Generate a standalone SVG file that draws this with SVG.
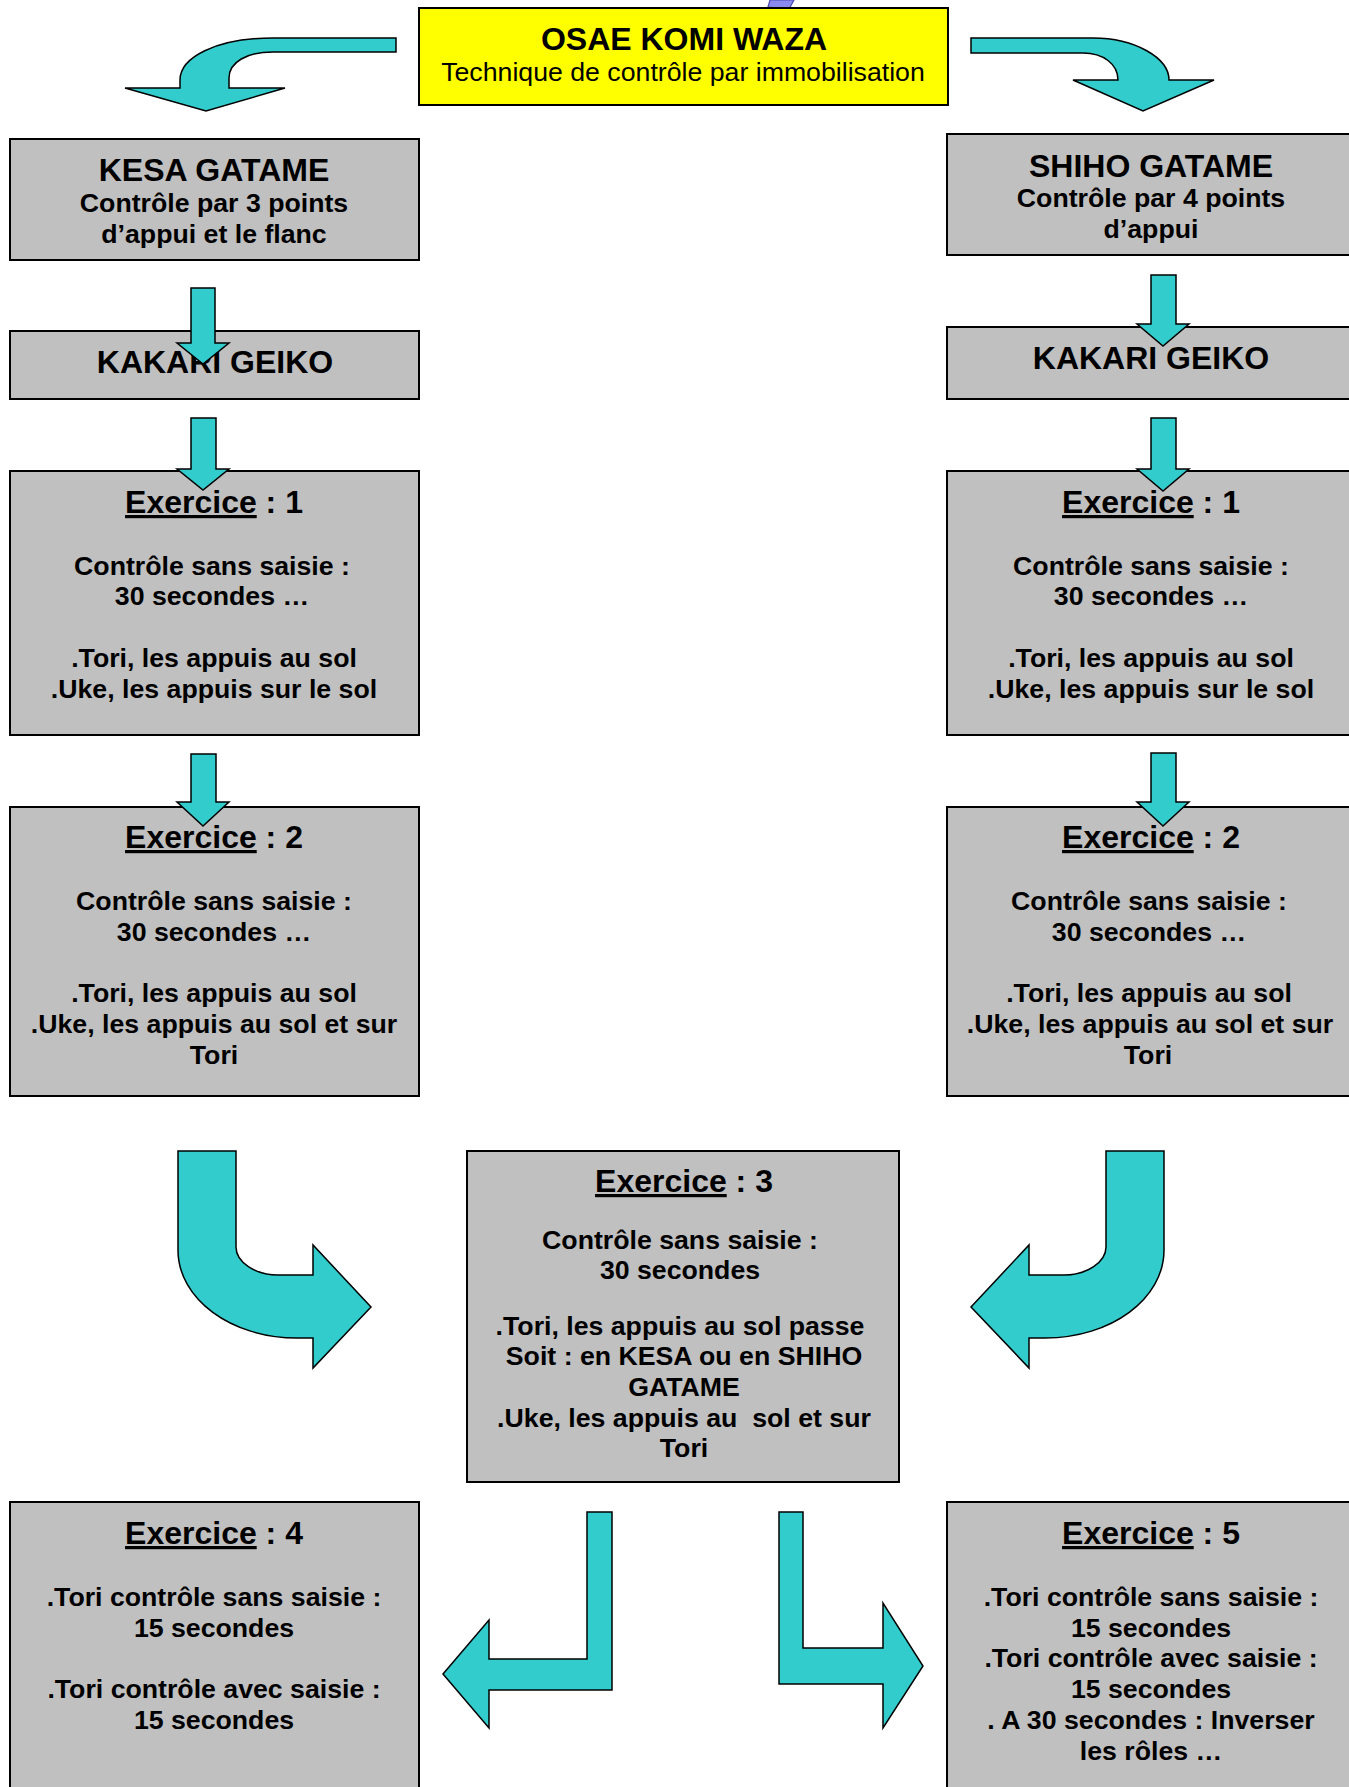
<svg xmlns="http://www.w3.org/2000/svg" width="1349" height="1787" viewBox="0 0 1349 1787">
<style>
.box{fill:#C0C0C0;stroke:#000;stroke-width:2}
.title{fill:#FFFF00;stroke:#000;stroke-width:2}
.arrow{fill:#33CCCC;stroke:#000;stroke-width:1.5;stroke-linejoin:miter}
text{font-family:"Liberation Sans",Arial,sans-serif;fill:#000;text-anchor:middle}
.h{font-size:32px;font-weight:bold}
.b{font-size:26.7px;font-weight:bold}
.r{font-size:26.7px}
.u{text-decoration:underline}
.pre{white-space:pre}
</style>
<rect x="0" y="0" width="1349" height="1787" fill="#FFFFFF"/>
<polygon points="770,0 794,0 789,9 768,7" fill="#8A8AEE" stroke="#4848B0" stroke-width="1.2"/>

<g id="osae">
<rect class="title" x="419" y="8" width="529" height="97"/>
<text class="h" x="684" y="50">OSAE KOMI WAZA</text>
<text class="r" x="683" y="81">Technique de contrôle par immobilisation</text>
</g>

<g id="kesa">
<rect class="box" x="10" y="139" width="409" height="121"/>
<text class="h" x="214" y="181">KESA GATAME</text>
<text class="b" x="214" y="212">Contrôle par 3 points</text>
<text class="b" x="214" y="243">d’appui et le flanc</text>
</g>

<g id="shiho">
<rect class="box" x="947" y="134" width="420" height="121"/>
<text class="h" x="1151" y="177">SHIHO GATAME</text>
<text class="b" x="1151" y="207">Contrôle par 4 points</text>
<text class="b" x="1151" y="238">d’appui</text>
</g>

<g id="kakari-left">
<rect class="box" x="10" y="331" width="409" height="68"/>
<text class="h" x="215" y="373">KAKARI GEIKO</text>
</g>

<g id="kakari-right">
<rect class="box" x="947" y="327" width="420" height="72"/>
<text class="h" x="1151" y="369">KAKARI GEIKO</text>
</g>

<g id="ex1-left">
<rect class="box" x="10" y="471" width="409" height="264"/>
<text class="h" x="214" y="513"><tspan class="u">Exercice</tspan> : 1</text>
<text class="b" x="212" y="575">Contrôle sans saisie :</text>
<text class="b" x="212" y="605">30 secondes …</text>
<text class="b" x="214" y="667">.Tori, les appuis au sol</text>
<text class="b" x="214" y="698">.Uke, les appuis sur le sol</text>
</g>

<g id="ex1-right">
<rect class="box" x="947" y="471" width="420" height="264"/>
<text class="h" x="1151" y="513"><tspan class="u">Exercice</tspan> : 1</text>
<text class="b" x="1151" y="575">Contrôle sans saisie :</text>
<text class="b" x="1151" y="605">30 secondes …</text>
<text class="b" x="1151" y="667">.Tori, les appuis au sol</text>
<text class="b" x="1151" y="698">.Uke, les appuis sur le sol</text>
</g>

<g id="ex2-left">
<rect class="box" x="10" y="807" width="409" height="289"/>
<text class="h" x="214" y="848"><tspan class="u">Exercice</tspan> : 2</text>
<text class="b" x="214" y="910">Contrôle sans saisie :</text>
<text class="b" x="214" y="941">30 secondes …</text>
<text class="b" x="214" y="1002">.Tori, les appuis au sol</text>
<text class="b" x="214" y="1033">.Uke, les appuis au sol et sur</text>
<text class="b" x="214" y="1064">Tori</text>
</g>

<g id="ex2-right">
<rect class="box" x="947" y="807" width="420" height="289"/>
<text class="h" x="1151" y="848"><tspan class="u">Exercice</tspan> : 2</text>
<text class="b" x="1149" y="910">Contrôle sans saisie :</text>
<text class="b" x="1149" y="941">30 secondes …</text>
<text class="b" x="1149" y="1002">.Tori, les appuis au sol</text>
<text class="b" x="1150" y="1033">.Uke, les appuis au sol et sur</text>
<text class="b" x="1148" y="1064">Tori</text>
</g>

<g id="ex3">
<rect class="box" x="467" y="1151" width="432" height="331"/>
<text class="h" x="684" y="1192"><tspan class="u">Exercice</tspan> : 3</text>
<text class="b" x="680" y="1249">Contrôle sans saisie :</text>
<text class="b" x="680" y="1279">30 secondes</text>
<text class="b" x="680" y="1335">.Tori, les appuis au sol passe</text>
<text class="b" x="684" y="1365">Soit : en KESA ou en SHIHO</text>
<text class="b" x="684" y="1396">GATAME</text>
<text class="b pre" x="684" y="1427">.Uke, les appuis au  sol et sur</text>
<text class="b" x="684" y="1457">Tori</text>
</g>

<g id="ex4">
<rect class="box" x="10" y="1502" width="409" height="320"/>
<text class="h" x="214" y="1544"><tspan class="u">Exercice</tspan> : 4</text>
<text class="b" x="214" y="1606">.Tori contrôle sans saisie :</text>
<text class="b" x="214" y="1637">15 secondes</text>
<text class="b" x="214" y="1698">.Tori contrôle avec saisie :</text>
<text class="b" x="214" y="1729">15 secondes</text>
</g>

<g id="ex5">
<rect class="box" x="947" y="1502" width="420" height="320"/>
<text class="h" x="1151" y="1544"><tspan class="u">Exercice</tspan> : 5</text>
<text class="b" x="1151" y="1606">.Tori contrôle sans saisie :</text>
<text class="b" x="1151" y="1637">15 secondes</text>
<text class="b" x="1151" y="1667">.Tori contrôle avec saisie :</text>
<text class="b" x="1151" y="1698">15 secondes</text>
<text class="b" x="1151" y="1729">. A 30 secondes : Inverser</text>
<text class="b" x="1151" y="1760">les rôles …</text>
</g>

<g id="connectors">
<path class="arrow" d="M396,38 L273,38 C215,38 180,58 180,80 L180,88 L125,88 L206,111 L285,88 L229,88 L229,78 C229,62 247,52 273,52 L396,52 Z"/>
<path class="arrow" d="M971,38 L1093,38 C1135,38 1169,58 1169,80 L1214,80 L1143,111 L1073,80 L1118,80 C1118,64 1103,53 1083,53 L971,53 Z"/>

<path class="arrow" d="M191,288 L215,288 L215,343 L229,343 L203,364 L177,343 L191,343 Z"/>
<path class="arrow" d="M191,418 L216,418 L216,469 L229,469 L203,490 L177,469 L191,469 Z"/>
<path class="arrow" d="M191,754 L216,754 L216,802 L229,802 L203,826 L177,802 L191,802 Z"/>

<path class="arrow" d="M1151,275 L1176,275 L1176,324 L1189,324 L1163,346 L1137,324 L1151,324 Z"/>
<path class="arrow" d="M1151,418 L1176,418 L1176,469 L1189,469 L1163,491 L1137,469 L1151,469 Z"/>
<path class="arrow" d="M1151,753 L1176,753 L1176,802 L1189,802 L1163,826 L1137,802 L1151,802 Z"/>

<path class="arrow" d="M178,1151 L236,1151 L236,1247 C236,1262 255,1275 278,1275 L313,1275 L313,1245 L371,1307 L313,1368 L313,1338 L297,1338 C231,1338 178,1299 178,1250 Z"/>
<path class="arrow" transform="translate(1342,0) scale(-1,1)" d="M178,1151 L236,1151 L236,1247 C236,1262 255,1275 278,1275 L313,1275 L313,1245 L371,1307 L313,1368 L313,1338 L297,1338 C231,1338 178,1299 178,1250 Z"/>

<path class="arrow" d="M587,1512 L612,1512 L612,1690 L489,1690 L489,1728 L443,1674 L489,1620 L489,1659 L587,1659 Z"/>
<path class="arrow" d="M779,1512 L803,1512 L803,1648 L883,1648 L883,1603 L923,1666 L883,1728 L883,1684 L779,1684 Z"/>
</g>
</svg>
